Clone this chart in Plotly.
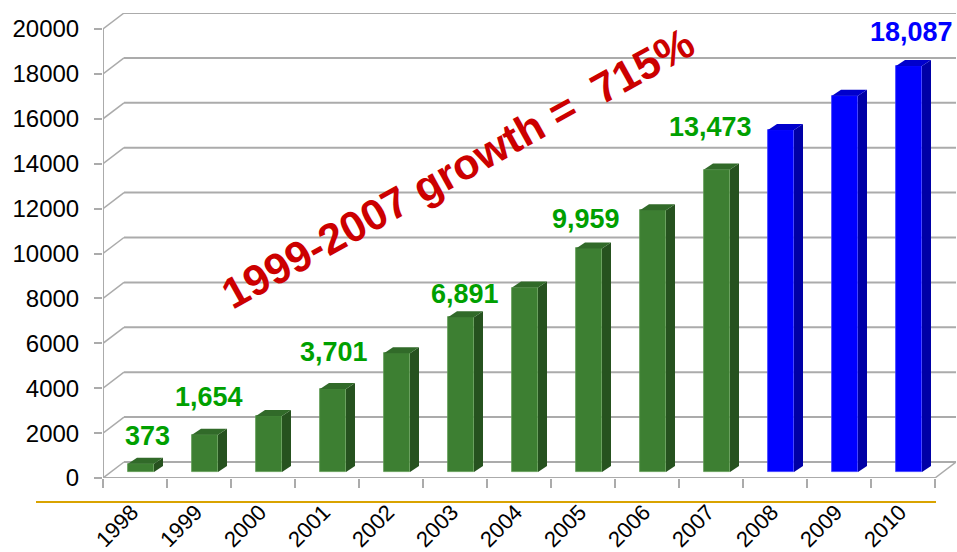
import plotly.graph_objects as go

# ---- data ----
years = ["1998", "1999", "2000", "2001", "2002", "2003", "2004",
         "2005", "2006", "2007", "2008", "2009", "2010"]
values = [373, 1654, 2500, 3701, 5290, 6891, 8215, 9959, 11660, 13473, 15230, 16760, 18087]
projected = [False] * 10 + [True] * 3
labelled = ["1998", "1999", "2001", "2003", "2005", "2007", "2010"]
y_ticks = list(range(0, 20001, 2000))
headline = "1999-2007 growth =\u00a0 715%"

# ---- geometry / style ----
W, H = 957, 552
ML, MR, MT, MB = 103, 1, 13, 74
plot_w = W - ML - MR
plot_h = H - MT - MB
px_per_cat = 832 / 13
px_per_val = 449 / 20000
x_max = -0.5 + plot_w / px_per_cat
y_max = plot_h / px_per_val

def dx(px):
    return px / px_per_cat

def dy(px):
    return px / px_per_val

WALL_DX, WALL_DY = dx(21), dy(16)
BAR_BASE = dy(6)
BAR_W = dx(26)
BAR_OFF = -BAR_W / 2 + dx(6)
DEPTH_X, DEPTH_Y = dx(9), dy(6)
LABEL_SHIFT = dx(-3)

GREEN = dict(front="#3D7F32", side="#26521F", top="#316A29", edge="#5E9A52")
BLUE = dict(front="#0000FF", side="#0000A6", top="#0000CC", edge="#3A3AFF")
GRID = "#ABABAB"
FONT = "Arial, Liberation Sans, sans-serif"

xs = list(range(len(years)))
pal = [BLUE if p else GREEN for p in projected]

fig = go.Figure()
fig.add_trace(go.Bar(
    x=xs, y=values, base=[BAR_BASE] * len(values),
    width=BAR_W, offset=BAR_OFF,
    marker=dict(color=[p["front"] for p in pal],
                line=dict(color=[p["edge"] for p in pal], width=0.8)),
    hoverinfo="skip", showlegend=False,
))

shapes = []
# back wall gridlines and diagonals to front axis
for v in y_ticks:
    shapes.append(dict(type="line", xref="x", yref="y", layer="below",
                       x0=-0.5 + WALL_DX, y0=v + WALL_DY, x1=x_max, y1=v + WALL_DY,
                       line=dict(color=GRID, width=2)))
    shapes.append(dict(type="line", xref="x", yref="y", layer="below",
                       x0=-0.5, y0=v, x1=-0.5 + WALL_DX, y1=v + WALL_DY,
                       line=dict(color=GRID, width=1.5)))
# front vertical axis line
shapes.append(dict(type="line", xref="x", yref="y", layer="below",
                   x0=-0.5, y0=0, x1=-0.5, y1=y_ticks[-1],
                   line=dict(color=GRID, width=2)))
# floor front edge and right edge
last = len(years) - 0.5
shapes.append(dict(type="line", xref="x", yref="y", layer="below",
                   x0=-0.5, y0=0, x1=last, y1=0, line=dict(color=GRID, width=2)))
shapes.append(dict(type="line", xref="x", yref="y", layer="below",
                   x0=last, y0=0, x1=last + WALL_DX, y1=WALL_DY,
                   line=dict(color=GRID, width=1.5)))

# 3D faces of bars
for i, v in enumerate(values):
    xl = i + BAR_OFF
    xr = xl + BAR_W
    b = BAR_BASE
    t = BAR_BASE + v
    side = (f"M{xr},{b} L{xr + DEPTH_X},{b + DEPTH_Y} "
            f"L{xr + DEPTH_X},{t + DEPTH_Y} L{xr},{t} Z")
    top = (f"M{xl},{t} L{xl + DEPTH_X},{t + DEPTH_Y} "
           f"L{xr + DEPTH_X},{t + DEPTH_Y} L{xr},{t} Z")
    shapes.append(dict(type="path", xref="x", yref="y", path=side, layer="above",
                       fillcolor=pal[i]["side"], line=dict(width=0)))
    shapes.append(dict(type="path", xref="x", yref="y", path=top, layer="above",
                       fillcolor=pal[i]["top"], line=dict(width=0)))

# gold separator line
shapes.append(dict(type="line", xref="paper", yref="paper",
                   x0=(36 - ML) / plot_w, x1=(936 - ML) / plot_w,
                   y0=-24 / plot_h, y1=-24 / plot_h,
                   line=dict(color="#D9A300", width=2)))

# value labels
LABEL_NUDGE = {"1998": (6, 28), "1999": (4, 38), "2001": (1, 37), "2003": (4, 23),
               "2005": (-3, 29), "2007": (-7, 43), "2010": (2, 34)}
annotations = []
for yr in labelled:
    i = years.index(yr)
    nx, ny = LABEL_NUDGE[yr]
    annotations.append(dict(
        x=i + BAR_OFF + BAR_W / 2, y=BAR_BASE + values[i], xref="x", yref="y",
        text=f"{values[i]:,}", showarrow=False, xanchor="center", yanchor="middle",
        xshift=nx, yshift=ny,
        font=dict(family=FONT, size=27, color="#0000FF" if projected[i] else "#00A000",
                  weight="bold")))

annotations.append(dict(
    x=(458 - ML) / plot_w, y=(478 - 168) / plot_h, xref="paper", yref="paper",
    text=f"<b>{headline}</b>", showarrow=False, textangle=-29,
    xanchor="center", yanchor="middle",
    font=dict(family=FONT, size=43, color="#CC0000")))

fig.update_layout(
    width=W, height=H,
    margin=dict(l=ML, r=MR, t=MT, b=MB, pad=0, autoexpand=False),
    paper_bgcolor="white", plot_bgcolor="white",
    shapes=shapes, annotations=annotations,
    bargap=0,
    xaxis=dict(range=[-0.5, x_max], tickmode="array",
               tickvals=[k + LABEL_SHIFT for k in xs], ticktext=years,
               tickangle=-45, ticks="", ticklen=0, showgrid=False, zeroline=False,
               showline=False, ticklabelstandoff=16, automargin=False,
               tickfont=dict(family=FONT, size=22, color="black"),
               minor=dict(tickmode="array", tickvals=[k - 0.5 for k in range(len(years) + 1)],
                          ticks="outside", ticklen=9, tickcolor=GRID, tickwidth=1.5,
                          showgrid=False)),
    yaxis=dict(range=[0, y_max], tickmode="array", tickvals=y_ticks,
               ticktext=[str(v) for v in y_ticks], automargin=False,
               ticks="outside", ticklen=8, tickcolor=GRID, tickwidth=1.5,
               showgrid=False, zeroline=False, showline=False, ticklabelstandoff=10,
               tickfont=dict(family=FONT, size=24, color="black")),
)

fig.write_html("out.html", config={"displayModeBar": False},
               post_script="document.body.style.margin='0';")
